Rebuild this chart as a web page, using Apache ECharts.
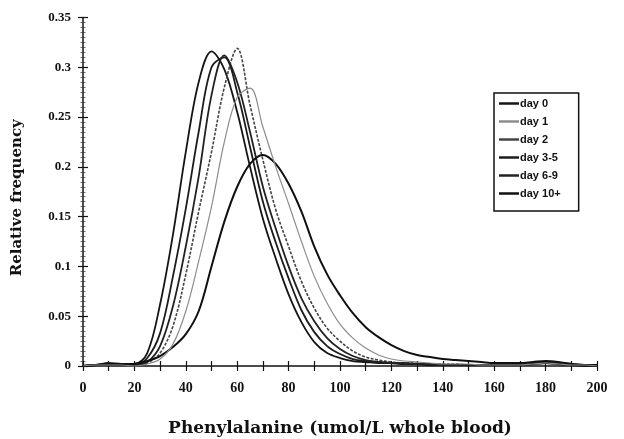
<!DOCTYPE html>
<html>
<head>
<meta charset="utf-8">
<script src="https://cdn.jsdelivr.net/npm/echarts@6/dist/echarts.min.js"></script>
<style>
  html, body { margin: 0; padding: 0; background: #fff; }
  #chart { width: 624px; height: 439px; }
</style>
</head>
<body>
<div id="chart"></div>
<script>
// Phenylalanine concentration (umol/L whole blood), sampled every 5 units
const phe = [0,5,10,15,20,25,30,35,40,45,50,55,60,65,70,75,80,85,90,95,100,
             105,110,115,120,125,130,135,140,145,150,155,160,165,170,175,180,185,190,195,200];

// Relative frequency by age at collection
const day0 = [0,0.001,0.003,0.002,0.002,0.013,0.062,0.132,0.215,0.285,0.316,0.298,0.255,0.2,0.148,0.108,0.072,0.044,0.024,0.013,0.008,
              0.005,0.004,0.003,0.003,0.002,0.002,0.001,0.001,0.001,0.001,0.001,0.001,0.001,0.001,0.002,0.003,0.002,0.001,0,0];
const day1 = [0,0.001,0.001,0.001,0,0.002,0.007,0.022,0.055,0.105,0.16,0.225,0.27,0.279,0.24,0.2,0.163,0.125,0.09,0.063,0.042,
              0.028,0.018,0.011,0.007,0.005,0.004,0.003,0.002,0.002,0.002,0.001,0.001,0.001,0.001,0.002,0.003,0.002,0.001,0.001,0];
const day2 = [0,0.001,0.001,0.001,0,0.003,0.013,0.04,0.092,0.155,0.215,0.28,0.319,0.262,0.207,0.157,0.12,0.085,0.058,0.038,0.025,
              0.015,0.009,0.006,0.004,0.003,0.003,0.002,0.002,0.002,0.001,0.001,0.001,0.001,0.002,0.003,0.004,0.003,0.001,0.001,0];
const day3to5 = [0,0.001,0.002,0.001,0.001,0.008,0.033,0.09,0.158,0.235,0.3,0.31,0.275,0.22,0.165,0.124,0.088,0.056,0.034,0.02,0.012,
                 0.007,0.005,0.004,0.003,0.002,0.002,0.002,0.001,0.001,0.001,0.001,0.001,0.001,0.001,0.002,0.003,0.002,0.001,0.001,0];
const day6to9 = [0,0.001,0.001,0.001,0.001,0.004,0.02,0.06,0.12,0.19,0.272,0.312,0.285,0.235,0.18,0.138,0.1,0.068,0.045,0.028,0.017,
                 0.01,0.006,0.004,0.003,0.003,0.002,0.002,0.001,0.001,0.001,0.001,0.001,0.001,0.002,0.003,0.004,0.003,0.002,0.001,0];
const day10plus = [0,0.001,0.002,0.001,0.002,0.005,0.01,0.019,0.032,0.055,0.1,0.145,0.18,0.203,0.212,0.203,0.183,0.155,0.12,0.092,0.071,
                   0.053,0.039,0.029,0.021,0.015,0.011,0.009,0.007,0.006,0.005,0.004,0.003,0.003,0.003,0.004,0.005,0.004,0.002,0.001,0.001];

const seriesNames = ['day 0', 'day 1', 'day 2', 'day 3-5', 'day 6-9', 'day 10+'];
const seriesValues = [day0, day1, day2, day3to5, day6to9, day10plus];

const xTicks = { min: 0, max: 200, step: 10, labelStep: 20 };
const yTicks = { min: 0, max: 0.35, step: 0.05 };

const serif = '"Liberation Serif", "DejaVu Serif", serif';
const wideSerif = '"DejaVu Serif", "Liberation Serif", serif';
const sans = '"Liberation Sans", Arial, sans-serif';

const styles = [
  { color: '#151515', width: 1.8, type: 'solid' },
  { color: '#8c8c8c', width: 1.2, type: 'solid' },
  { color: '#444444', width: 1.6, type: [3, 1.5] },
  { color: '#1c1c1c', width: 1.8, type: 'solid' },
  { color: '#222222', width: 1.8, type: 'solid' },
  { color: '#101010', width: 2.0, type: 'solid' }
];

const chart = echarts.init(document.getElementById('chart'), null, { renderer: 'canvas' });

const axisLineStyle = { color: '#111', width: 1.5 };

const option = {
  backgroundColor: '#fff',
  animation: false,
  grid: { left: 83, right: 27, top: 17.5, bottom: 73, containLabel: false, outerBoundsMode: 'none' },
  legend: {
    orient: 'vertical',
    left: 494,
    top: 93,
    icon: 'rect',
    itemWidth: 20,
    itemHeight: 2.5,
    itemGap: 5,
    padding: [4, 18, 11, 5],
    borderColor: '#111',
    borderWidth: 1.5,
    backgroundColor: '#fff',
    textStyle: { fontFamily: sans, fontWeight: 'bold', fontSize: 11, lineHeight: 13, color: '#111', padding: [0, 0, 0, -4] },
    data: seriesNames
  },
  xAxis: [{
    type: 'value',
    min: xTicks.min, max: xTicks.max, interval: xTicks.step,
    name: 'Phenylalanine (umol/L whole blood)',
    nameLocation: 'middle',
    nameGap: 54,
    nameTextStyle: { fontFamily: wideSerif, fontWeight: 'bold', fontSize: 17, color: '#111' },
    axisLine: { onZero: false, lineStyle: axisLineStyle },
    axisTick: { show: true, length: 5, lineStyle: { color: '#111', width: 1.2 } },
    axisLabel: {
      margin: 15,
      fontFamily: serif, fontWeight: 'bold', fontSize: 14, color: '#111',
      formatter: v => (v % xTicks.labelStep === 0 ? String(v) : '')
    },
    splitLine: { show: false }
  }, {
    type: 'value',
    position: 'bottom',
    min: xTicks.min, max: xTicks.max, interval: xTicks.step,
    axisLine: { show: false },
    axisTick: { show: true, inside: true, length: 5, lineStyle: { color: '#111', width: 1.2 } },
    axisLabel: { show: false },
    splitLine: { show: false }
  }],
  yAxis: [{
    type: 'value',
    min: yTicks.min, max: yTicks.max, interval: yTicks.step,
    name: 'Relative frequency',
    nameLocation: 'middle',
    nameGap: 58,
    nameTextStyle: { fontFamily: wideSerif, fontWeight: 'bold', fontSize: 15, color: '#111', padding: [0, 0, 0, -12] },
    axisLine: { show: true, lineStyle: axisLineStyle },
    axisTick: { show: true, length: 5, lineStyle: { color: '#111', width: 1.2 } },
    minorTick: { show: true, splitNumber: 10, length: 2.5, lineStyle: { color: '#444', width: 0.8 } },
    axisLabel: {
      margin: 12,
      fontFamily: serif, fontWeight: 'bold', fontSize: 13, color: '#111',
      formatter: v => String(parseFloat(v.toFixed(2)))
    },
    splitLine: { show: false }
  }, {
    type: 'value',
    position: 'left',
    min: yTicks.min, max: yTicks.max, interval: yTicks.step,
    axisLine: { show: false },
    axisTick: { show: true, inside: true, length: 5, lineStyle: { color: '#111', width: 1.2 } },
    minorTick: { show: true, splitNumber: 10, length: 2.5, lineStyle: { color: '#444', width: 0.8 } },
    axisLabel: { show: false },
    splitLine: { show: false }
  }],
  series: seriesNames.map((name, i) => ({
    name: name,
    type: 'line',
    symbol: 'none',
    smooth: 0.35,
    data: phe.map((x, j) => [x, seriesValues[i][j]]),
    lineStyle: { color: styles[i].color, width: styles[i].width, type: styles[i].type },
    itemStyle: { color: styles[i].color },
    z: i === 1 ? 3 : 2
  }))
};

chart.setOption(option);
</script>
</body>
</html>
